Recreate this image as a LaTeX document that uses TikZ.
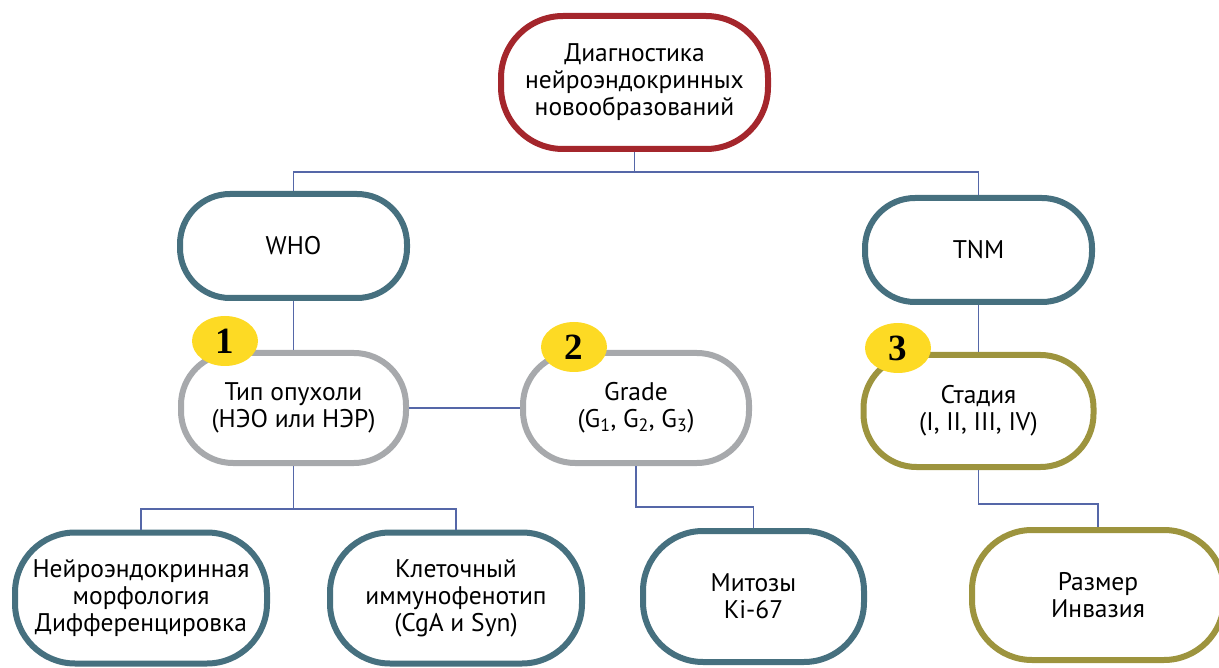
\documentclass[tikz,border=0pt]{standalone}
\usepackage{fontspec}
\setmainfont{PT Sans}
\newfontfamily\numfont{Liberation Serif}
\definecolor{cred}{HTML}{A4262C}
\definecolor{cteal}{HTML}{46707F}
\definecolor{cgray}{HTML}{A7A9AC}
\definecolor{colive}{HTML}{9D943E}
\definecolor{cline}{HTML}{5567A8}
\definecolor{cyellow}{HTML}{FDDA24}
\usetikzlibrary{shapes.geometric}
\tikzset{
  box/.style={draw, fill=white, line width=6pt, align=center, inner sep=0pt,
    font=\fontsize{25.5}{27}\selectfont},
  conn/.style={draw=cline, line width=1.8pt},
  badge/.style={ellipse, fill=cyellow, minimum width=66pt, minimum height=50pt, inner sep=0pt,
    font=\numfont\bfseries\fontsize{37}{37}\selectfont},
}
\begin{document}
\begin{tikzpicture}[x=1pt,y=-1pt]
\useasboundingbox (0,0) rectangle (1219,668);
% nodes
\node[box, draw=cred, minimum width=267pt, minimum height=133pt, rounded corners=62pt] (top) at (634.5,82.5)
  {Диагностика\\нейроэндокринных\\новообразований};
\node[box, draw=cteal, minimum width=227pt, minimum height=104pt, rounded corners=50pt] (who) at (293.5,246) {WHO};
\node[box, draw=cteal, minimum width=227pt, minimum height=104pt, rounded corners=50pt] (tnm) at (978.5,250) {TNM};
\node[box, draw=cgray, minimum width=225pt, minimum height=110pt, rounded corners=52pt] (type) at (293.5,408)
  {Тип опухоли\\(НЭО или НЭР)};
\node[box, draw=cgray, minimum width=226pt, minimum height=110pt, rounded corners=52pt] (grade) at (636,408)
  {Grade\\(G\textsubscript{1}, G\textsubscript{2}, G\textsubscript{3})};
\node[box, draw=colive, minimum width=230pt, minimum height=112pt, rounded corners=53pt] (stad) at (978.5,411)
  {Стадия\\(I, II, III, IV)};
\node[box, draw=cteal, minimum width=252pt, minimum height=131pt, rounded corners=60pt] (neuro) at (141,598)
  {Нейроэндокринная\\морфология\\Дифференцировка};
\node[box, draw=cteal, minimum width=252pt, minimum height=131pt, rounded corners=60pt] (klet) at (456,598)
  {Клеточный\\иммунофенотип\\(CgA и Syn)};
\node[box, draw=cteal, minimum width=221pt, minimum height=131pt, rounded corners=60pt] (mit) at (753.5,596.5)
  {Митозы\\Ki-67};
\node[box, draw=colive, minimum width=252pt, minimum height=130pt, rounded corners=60pt] (razm) at (1098,595)
  {Размер\\Инвазия};
% junctions
\coordinate (jt) at (634.5,172);
\coordinate (jb) at (293.5,509);
\coordinate (jg) at (636,507);
\coordinate (js) at (978.5,504);
% connectors
\draw[conn] (top.south) -- (jt);
\draw[conn] (who.north) |- (jt) -| (tnm.north);
\draw[conn] (who.south) -- (type.north);
\draw[conn] (type.east) -- (grade.west);
\draw[conn] (tnm.south) -- (stad.north);
\draw[conn] (type.south) -- (jb);
\draw[conn] (neuro.north) |- (jb) -| (klet.north);
\draw[conn] (grade.south) -- (jg) -| (mit.north);
\draw[conn] (stad.south) -- (js) -| (razm.north);
% badges
\node[badge] (b1) at (225,341) {1};
\node[badge] (b2) at (574,347) {2};
\node[badge] (b3) at (898,348) {3};
\end{tikzpicture}
\end{document}
